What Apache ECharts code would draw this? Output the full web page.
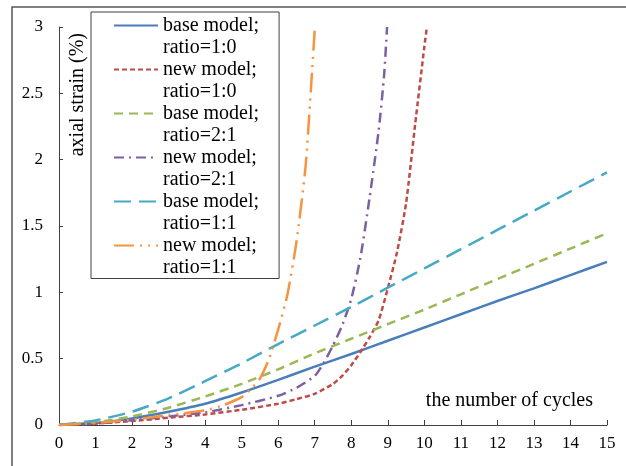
<!DOCTYPE html>
<html>
<head>
<meta charset="utf-8">
<script src="https://cdn.jsdelivr.net/npm/echarts@6/dist/echarts.min.js"></script>
<style>html,body{margin:0;padding:0;background:#fff}#c{width:626px;height:466px}</style>
</head>
<body>
<div id="c"></div>
<script>
// ---- data ----
const seriesNames = [
  'base model; ratio=1:0', 'new model; ratio=1:0',
  'base model; ratio=2:1', 'new model; ratio=2:1',
  'base model; ratio=1:1', 'new model; ratio=1:1'
];
const xBase = [0,1,2,3,4,5,6,7,8,9,10,11,12,13,14,15];
const base10 = [0,0.015,0.05,0.10,0.16,0.245,0.34,0.44,0.535,0.635,0.735,0.835,0.935,1.03,1.13,1.23];
const base21 = [0,0.02,0.065,0.13,0.215,0.31,0.42,0.54,0.65,0.76,0.87,0.985,1.10,1.215,1.33,1.445];
const base11 = [0,0.035,0.10,0.20,0.33,0.465,0.61,0.75,0.89,1.035,1.18,1.325,1.47,1.615,1.76,1.905];
const xNew10 = [0,1,2,3,4,5,6,6.5,7,7.5,7.75,8,8.25,8.5,8.75,9,9.25,9.5,9.75,10,10.07];
const new10  = [0,0.012,0.03,0.055,0.08,0.115,0.16,0.195,0.235,0.31,0.37,0.45,0.55,0.66,0.79,1.03,1.30,1.67,2.27,2.85,3.0];
const xNew21 = [0,1,2,3,4,5,6,6.5,7,7.25,7.5,7.75,8,8.25,8.5,8.75,8.9,8.98];
const new21  = [0,0.01,0.035,0.065,0.095,0.15,0.22,0.28,0.37,0.47,0.6,0.75,0.95,1.26,1.71,2.22,2.64,3.0];
const xNew11 = [0,1,2,3,4,4.5,5,5.25,5.5,5.75,6,6.25,6.5,6.75,6.9,7.0];
const new11  = [0,0.015,0.04,0.075,0.11,0.15,0.21,0.27,0.35,0.5,0.72,0.98,1.38,1.95,2.55,2.98];
const xTicks = {min:0, max:15, interval:1};
const yTicks = {min:0, max:3, interval:0.5};
const xName = 'the number of cycles';
const yName = 'axial strain (%)';

// ---- chart ----
const pair = (xs, ys) => xs.map((x, i) => [x, ys[i]]);
const colors = ['#4A7EBB','#BE4B48','#98B954','#7D60A0','#46AAC5','#F69240'];
const dashes = ['solid',[5,3],[9,6],[10,5,2,5],[17,8],[20,6,2,6,2,6]];
const dataSets = [pair(xBase,base10), pair(xNew10,new10), pair(xBase,base21),
                  pair(xNew21,new21), pair(xBase,base11), pair(xNew11,new11)];
const font = 'Liberation Serif';
const axisColor = '#404040';

const chart = echarts.init(document.getElementById('c'), null, {renderer:'canvas'});
chart.setOption({
  animation: false,
  backgroundColor: '#fff',
  grid: {left: 59, right: 19, top: 27, bottom: 41, containLabel: false},
  graphic: [{
    type: 'rect', z: -10, silent: true,
    shape: {x: 12, y: 7, width: 800, height: 600},
    style: {fill: 'none', stroke: '#555', lineWidth: 1.5}
  }],
  xAxis: {
    type: 'value', min: xTicks.min, max: xTicks.max, interval: xTicks.interval,
    name: xName, nameLocation: 'end', nameGap: -14,
    nameTextStyle: {fontFamily: font, fontSize: 20, color: '#000', align: 'right', verticalAlign: 'bottom', padding: [0,0,14,0]},
    axisLine: {show: true, lineStyle: {color: axisColor, width: 1}},
    axisTick: {show: true, inside: true, length: 5, lineStyle: {color: axisColor}},
    axisLabel: {fontFamily: font, fontSize: 17, color: '#000', margin: 10},
    splitLine: {show: false}
  },
  yAxis: {
    type: 'value', min: yTicks.min, max: yTicks.max, interval: yTicks.interval,
    name: yName, nameLocation: 'end', nameGap: -6, nameRotate: 90,
    nameTextStyle: {fontFamily: font, fontSize: 20, color: '#000', align: 'right', verticalAlign: 'top', padding: [9,0,0,0]},
    axisLine: {show: true, lineStyle: {color: axisColor, width: 1}},
    axisTick: {show: true, inside: true, length: 4, lineStyle: {color: axisColor}},
    axisLabel: {fontFamily: font, fontSize: 17, color: '#000', margin: 16},
    splitLine: {show: false}
  },
  legend: {
    orient: 'vertical', left: 91, top: 12,
    padding: [-19.5, 20, 0, 22],
    itemGap: -22, itemWidth: 44, itemHeight: 10,
    backgroundColor: '#fff', borderColor: axisColor, borderWidth: 1,
    itemStyle: {opacity: 0},
    formatter: n => '\u200B\n' + n.replace('; ', ';\n'),
    textStyle: {fontFamily: font, fontSize: 20, lineHeight: 22, color: '#000'},
    data: seriesNames
  },
  series: seriesNames.map((name, i) => ({
    name, type: 'line', data: dataSets[i],
    symbol: 'none', smooth: 0.2,
    color: colors[i],
    lineStyle: {color: colors[i], width: 2.5, type: dashes[i]},
    z: 2
  }))
});
</script>
</body>
</html>
